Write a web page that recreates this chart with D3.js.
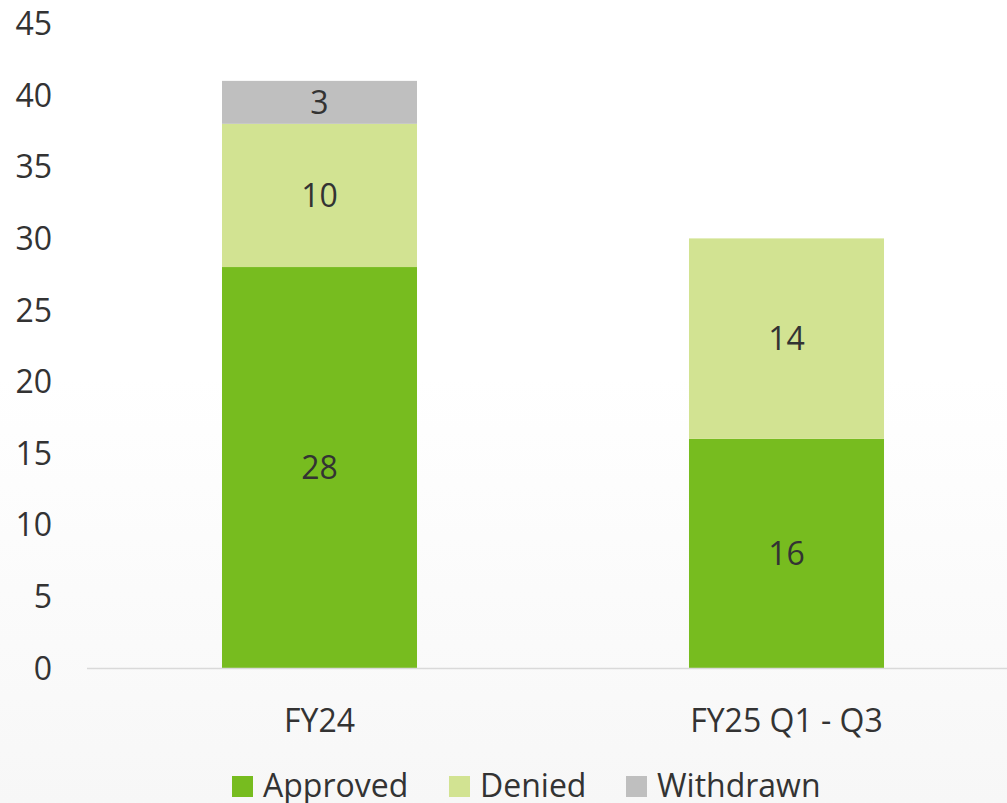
<!DOCTYPE html>
<html>
<head>
<meta charset="utf-8">
<script src="https://d3js.org/d3.v7.min.js"></script>
<style>
    body { margin: 0; }
    svg text { font-family: "Open Sans", "Noto Sans", sans-serif; fill: #333; }
</style>
</head>
<body>
<svg id="chart" width="1007" height="803"></svg>
<script>
    // data
    const categories = ["FY24", "FY25 Q1 - Q3"];
    const seriesNames = ["Approved", "Denied", "Withdrawn"];
    const approved = [28, 16];
    const denied = [10, 14];
    const withdrawn = [3, 0];
    const yTicks = [0, 5, 10, 15, 20, 25, 30, 35, 40, 45];
    const colors = ["#77bc1f", "#d2e392", "#bfbfbf"];

    const W = 1007, H = 803;
    const fs = 32;
    const svg = d3.select("#chart");

    // soft background gradient like the original slide
    const grad = svg.append("defs").append("linearGradient")
        .attr("id", "bg").attr("x1", 0).attr("y1", 0).attr("x2", 0).attr("y2", 1);
    grad.append("stop").attr("offset", "0.47").attr("stop-color", "#ffffff");
    grad.append("stop").attr("offset", "1").attr("stop-color", "#f7f7f7");
    svg.append("rect").attr("width", W).attr("height", H).attr("fill", "url(#bg)");

    // rows for stacking
    const rows = categories.map((c, i) => ({
        cat: c, Approved: approved[i], Denied: denied[i], Withdrawn: withdrawn[i]
    }));
    const stacked = d3.stack().keys(seriesNames)(rows);

    const x = d3.scaleBand().domain(categories).range([86, 1020]).paddingInner(0.5824).paddingOuter(0.2912);
    const y = d3.scaleLinear().domain([0, 45]).range([668, 23.6]);

    // y tick labels (no axis line)
    svg.append("g").selectAll("text")
        .data(yTicks).join("text")
        .attr("x", 52).attr("y", d => y(d))
        .attr("dy", "0.36em")
        .attr("text-anchor", "end")
        .attr("font-size", fs)
        .text(d => d);

    // bars
    const layer = svg.append("g").selectAll("g")
        .data(stacked).join("g")
        .attr("fill", (d, i) => colors[i]);

    layer.selectAll("rect")
        .data(d => d.map(v => ({ v: v, key: d.key })))
        .join("rect")
        .attr("x", d => x(d.v.data.cat))
        .attr("width", x.bandwidth())
        .attr("y", d => y(d.v[1]))
        .attr("height", d => y(d.v[0]) - y(d.v[1]));

    // value labels
    layer.selectAll("text")
        .data(d => d.filter(v => v[1] - v[0] > 0))
        .join("text")
        .attr("x", d => x(d.data.cat) + x.bandwidth() / 2)
        .attr("y", d => (y(d[0]) + y(d[1])) / 2)
        .attr("dy", "0.36em")
        .attr("text-anchor", "middle")
        .attr("font-size", fs)
        .text(d => d[1] - d[0]);

    // baseline
    svg.append("line")
        .attr("x1", 87).attr("x2", W)
        .attr("y1", y(0) + 0.5).attr("y2", y(0) + 0.5)
        .attr("stroke", "#d9d9d9").attr("stroke-width", 1.5);

    // category labels
    svg.append("g").selectAll("text")
        .data(categories).join("text")
        .attr("x", d => x(d) + x.bandwidth() / 2)
        .attr("y", 720).attr("dy", "0.36em")
        .attr("text-anchor", "middle")
        .attr("font-size", fs)
        .text(d => d);

    // legend
    const legendX = [232, 449, 626];
    const legend = svg.append("g").selectAll("g")
        .data(seriesNames).join("g")
        .attr("transform", (d, i) => "translate(" + legendX[i] + ",776)");
    legend.append("rect")
        .attr("width", 21).attr("height", 21)
        .attr("fill", (d, i) => colors[i]);
    legend.append("text")
        .attr("x", 31).attr("y", 9.5).attr("dy", "0.36em")
        .attr("font-size", fs)
        .text(d => d);
</script>
</body>
</html>
